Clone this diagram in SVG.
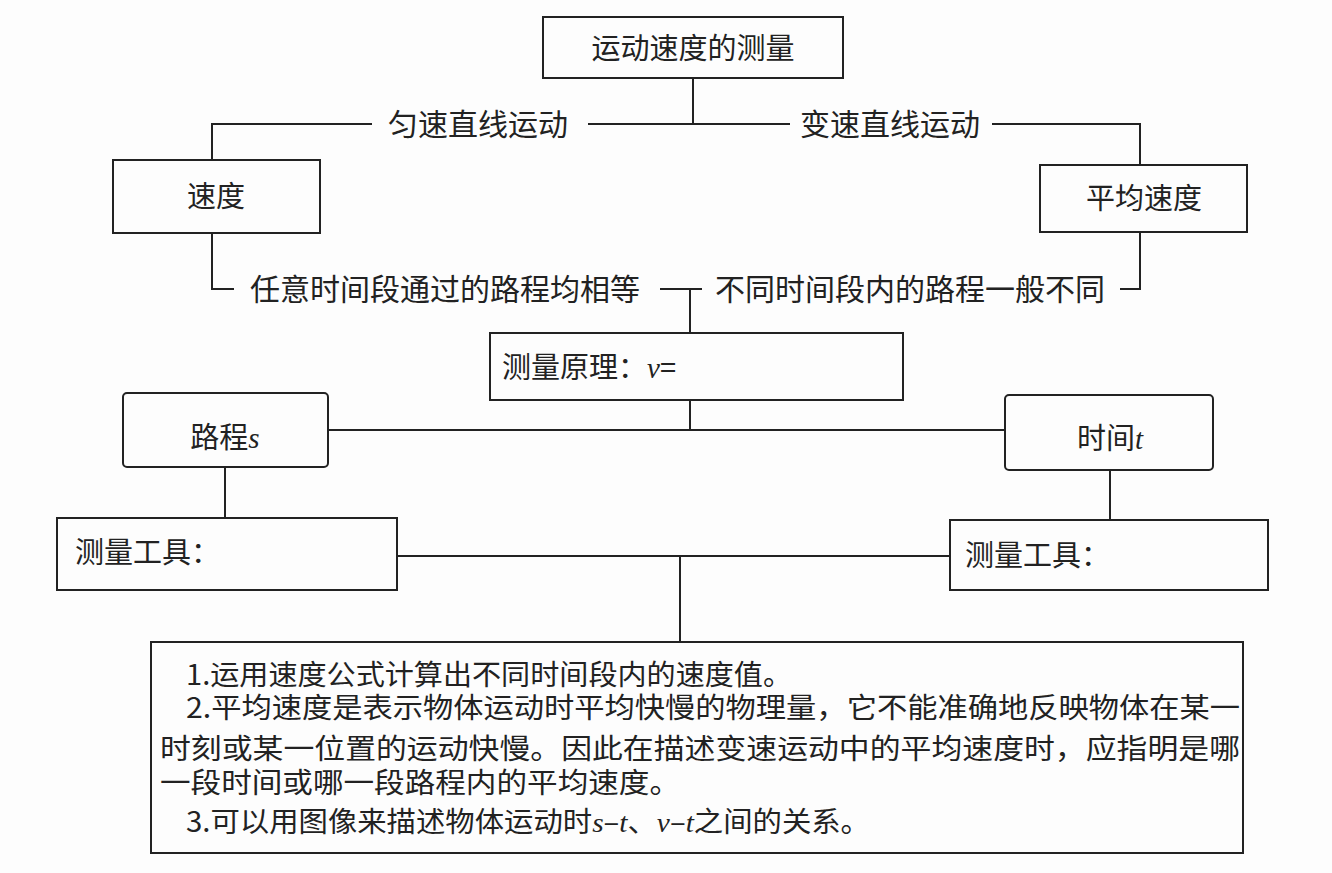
<svg xmlns="http://www.w3.org/2000/svg" width="1332" height="873" viewBox="0 0 1332 873">
<style>
.box{fill:none;stroke:#222;stroke-width:2}
.ln{fill:none;stroke:#222;stroke-width:2}
text{font-family:"Noto Sans CJK SC","Liberation Sans",sans-serif;font-size:29px;fill:#222}
.t{font-size:30px}
.n{font-size:28px}
.it{font-family:"Liberation Serif",serif;font-style:italic}
.mid{text-anchor:middle}
</style>
<rect width="1332" height="873" fill="#fdfdfd"/>
<g id="connectors">
<path class="ln" d="M693 78V124"/>
<path class="ln" d="M212 160V124H372"/>
<path class="ln" d="M588 124H790"/>
<path class="ln" d="M992 124H1140V165"/>
<path class="ln" d="M212 233V289H234"/>
<path class="ln" d="M660 289H702"/>
<path class="ln" d="M690 289V333"/>
<path class="ln" d="M1120 289H1140V232"/>
<path class="ln" d="M690 400V430"/>
<path class="ln" d="M328 430H1005"/>
<path class="ln" d="M225 467V518"/>
<path class="ln" d="M1110 470V520"/>
<path class="ln" d="M397 556H950"/>
<path class="ln" d="M680 556V642"/>
<text class="t" x="388" y="135">匀速直线运动</text>
<text class="t" x="800" y="135">变速直线运动</text>
<text class="t" x="250" y="300">任意时间段通过的路程均相等</text>
<text class="t" x="715" y="300">不同时间段内的路程一般不同</text>
</g>
<g id="n-top"><rect class="box" x="543" y="17" width="300" height="61"/><text class="mid" x="693" y="59">运动速度的测量</text></g>
<g id="n-speed"><rect class="box" x="113" y="160" width="207" height="73"/><text class="mid" x="216" y="207">速度</text></g>
<g id="n-avg"><rect class="box" x="1040" y="165" width="207" height="67"/><text class="mid" x="1144" y="209">平均速度</text></g>
<g id="n-principle"><rect class="box" x="490" y="333" width="413" height="67"/><text x="502" y="378">测量原理：<tspan class="it">v</tspan>=</text></g>
<g id="n-s"><rect class="box" x="123" y="393" width="205" height="74" rx="4"/><text class="mid" x="225" y="448">路程<tspan class="it">s</tspan></text></g>
<g id="n-t"><rect class="box" x="1005" y="395" width="208" height="75" rx="4"/><text class="mid" x="1110" y="449">时间<tspan class="it">t</tspan></text></g>
<g id="n-tool1"><rect class="box" x="57" y="518" width="340" height="72"/><text x="75" y="563">测量工具：</text></g>
<g id="n-tool2"><rect class="box" x="950" y="520" width="318" height="70"/><text x="965" y="566">测量工具：</text></g>
<g id="n-notes"><rect class="box" x="151" y="642" width="1092" height="211"/>
<text class="n" x="186" y="685" textLength="606" lengthAdjust="spacingAndGlyphs">1.运用速度公式计算出不同时间段内的速度值。</text>
<text class="n" x="186" y="718" textLength="1054" lengthAdjust="spacingAndGlyphs">2.平均速度是表示物体运动时平均快慢的物理量，它不能准确地反映物体在某一</text>
<text class="n" x="160" y="759" textLength="1080" lengthAdjust="spacingAndGlyphs">时刻或某一位置的运动快慢。因此在描述变速运动中的平均速度时，应指明是哪</text>
<text class="n" x="160" y="793" textLength="520" lengthAdjust="spacingAndGlyphs">一段时间或哪一段路程内的平均速度。</text>
<text class="n" x="186" y="832" textLength="684" lengthAdjust="spacingAndGlyphs">3.可以用图像来描述物体运动时<tspan class="it">s</tspan>–<tspan class="it">t</tspan>、<tspan class="it">v</tspan>–<tspan class="it">t</tspan>之间的关系。</text>
</g>
</svg>
